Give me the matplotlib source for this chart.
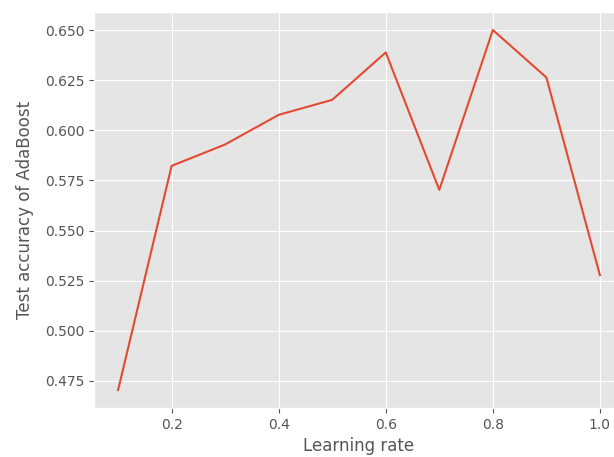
import matplotlib
matplotlib.use('Agg')
import matplotlib.pyplot as plt

plt.style.use('ggplot')

# learning rates and test accuracy
learning_rate = [0.1, 0.2, 0.3, 0.4, 0.5, 0.6, 0.7, 0.8, 0.9, 1.0]
test_acc = [0.4703, 0.5823, 0.5930, 0.6078, 0.6153, 0.6390, 0.5703, 0.6502, 0.6265, 0.5277]

fig = plt.figure(figsize=(6.14, 4.57), dpi=100)
ax = fig.add_axes([94/614, 49/457, 530/614, 396/457])
ax.plot(learning_rate, test_acc)
ax.set_xlabel('Learning rate')
ax.set_ylabel('Test accuracy of AdaBoost', labelpad=8)
ax.set_yticks([0.475, 0.500, 0.525, 0.550, 0.575, 0.600, 0.625, 0.650])
ax.set_xticks([0.2, 0.4, 0.6, 0.8, 1.0])

fig.savefig('out.png', dpi=100)
